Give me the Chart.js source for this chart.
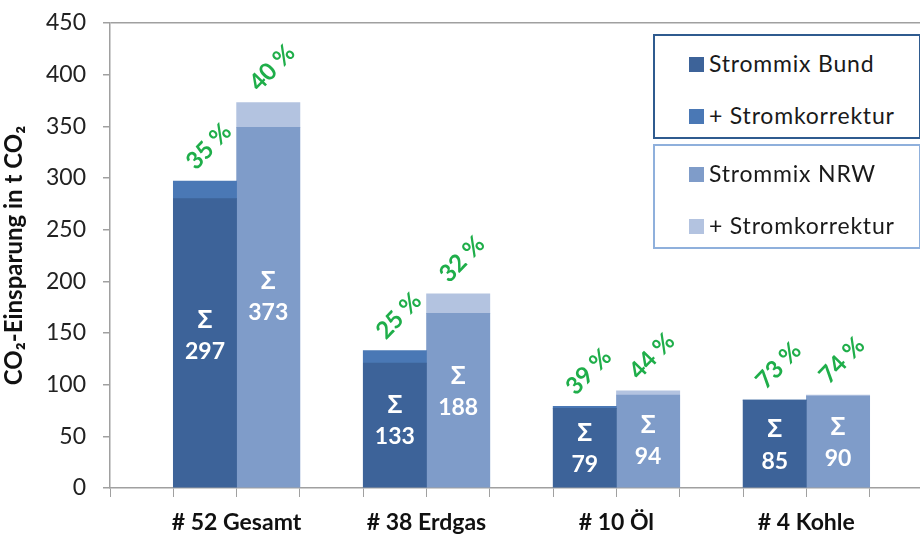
<!DOCTYPE html>
<html>
<head>
<meta charset="utf-8">
<script src="https://cdn.jsdelivr.net/npm/chart.js@4"></script>
<style>
  html, body { margin: 0; padding: 0; background: #fff; overflow: hidden; }
  #wrap { position: relative; width: 940px; height: 536px; }
  .lgbox { position: absolute; left: 653px; width: 264px; height: 101px; border: 2px solid #2f5b8f; box-sizing: content-box; background: #fff; }
  .lgbox.nrw { border-color: #8fb0dc; }
  .lgitem { position: absolute; left: 34px; font: 23px Lato, sans-serif; letter-spacing: 0.8px; color: #1a1a1a; line-height: 26px; white-space: nowrap; }
  .lgitem span { display: inline-block; width: 15px; height: 15px; margin-right: 5px; vertical-align: 0px; }
</style>
</head>
<body>
<div id="wrap">
  <canvas id="co2Chart"></canvas>
  <div id="legend"></div>
</div>
<script>
// CO2-Einsparung nach Heizungsart, Strommix Bund vs. NRW

const groups = ['# 52 Gesamt', '# 38 Erdgas', '# 10 Öl', '# 4 Kohle'];
const bundBase = [280, 121, 77, 85];
const bundCorr = [17, 12, 2, 0];
const nrwBase = [349, 169, 90, 89];
const nrwCorr = [24, 19, 4, 1];
const bundSum = [297, 133, 79, 85];
const nrwSum = [373, 188, 94, 90];
const bundPct = [35, 25, 39, 73];
const nrwPct = [40, 32, 44, 74];
const yTicks = [0, 50, 100, 150, 200, 250, 300, 350, 400, 450];

const seriesNames = ['Strommix Bund', '+ Stromkorrektur', 'Strommix NRW', '+ Stromkorrektur'];
const seriesColors = ['#3d6399', '#4a78b5', '#7f9cc9', '#b3c3e0'];

// every group takes three slots on the axis: gap, Bund, NRW (plus one trailing gap)
const slotCount = groups.length * 3 + 1;
const slotLabels = [];
for (let i = 0; i < slotCount; i++) {
    slotLabels.push(i % 3 === 1 && i < groups.length * 3 ? groups[(i - 1) / 3] : '');
}

function toSlots(values, side) {
    const out = new Array(slotCount).fill(null);
    values.forEach((v, g) => { out[g * 3 + 1 + side] = v; });
    return out;
}

const seriesData = [toSlots(bundBase, 0), toSlots(bundCorr, 0), toSlots(nrwBase, 1), toSlots(nrwCorr, 1)];

const valueLabels = {
    id: 'valueLabels',
    afterDatasetsDraw(chart) {
        const c = chart.ctx;
        const xs = chart.scales.x;
        const ys = chart.scales.y;
        const zero = ys.getPixelForValue(0);
        c.save();
        groups.forEach((g, i) => {
            [[bundSum[i], bundPct[i], 0], [nrwSum[i], nrwPct[i], 1]].forEach(([sum, pct, side]) => {
                const x = xs.getPixelForValue(i * 3 + 1 + side);
                const top = ys.getPixelForValue(sum);
                const mid = (top + zero) / 2;
                c.fillStyle = '#ffffff';
                c.textAlign = 'center';
                c.textBaseline = 'middle';
                c.font = '600 26px "Noto Sans", sans-serif';
                c.fillText('Σ', x, mid - 14);
                c.font = 'bold 23px Lato, sans-serif';
                c.fillText(String(sum), x, mid + 17);
                c.save();
                c.translate(x - 9, top - 10);
                c.rotate(-46 * Math.PI / 180);
                c.fillStyle = '#1fae4a';
                c.textAlign = 'left';
                c.textBaseline = 'alphabetic';
                c.font = 'bold 24px Lato, sans-serif';
                c.fillText(pct + ' %', 0, 0);
                c.restore();
            });
        });
        c.restore();
    }
};

const ctx = document.getElementById('co2Chart').getContext('2d');
const co2Chart = new Chart(ctx, {
    type: 'bar',
    data: {
        labels: slotLabels,
        datasets: seriesData.map((d, i) => ({
            label: seriesNames[i],
            data: d,
            backgroundColor: seriesColors[i],
            borderWidth: 0,
            barPercentage: 1,
            categoryPercentage: 1
        }))
    },
    options: {
        responsive: true,
        maintainAspectRatio: false,
        animation: false,
        layout: { padding: { top: 23, left: 0, right: 7, bottom: 0 } },
        plugins: {
            legend: { display: false },
            tooltip: { enabled: false }
        },
        scales: {
            x: {
                stacked: true,
                offset: true,
                border: { color: '#a0a0a0', width: 1.5 },
                grid: { drawOnChartArea: false, drawTicks: true, tickLength: 9, tickColor: '#a0a0a0', offset: true },
                ticks: {
                    autoSkip: false,
                    maxRotation: 0,
                    minRotation: 0,
                    labelOffset: 31.6,
                    padding: 12,
                    color: '#111',
                    font: { family: 'Lato, sans-serif', size: 23, weight: 'bold' }
                },
                afterFit: s => { s.height = 48; }
            },
            y: {
                stacked: true,
                min: 0,
                max: 450,
                afterBuildTicks: s => { s.ticks = yTicks.map(v => ({ value: v })); },
                border: { color: '#a0a0a0', width: 1.5 },
                grid: {
                    drawTicks: true,
                    tickLength: 7,
                    tickColor: '#a0a0a0',
                    color: c => (c.tick && c.tick.value === 450 ? '#a0a0a0' : 'rgba(0,0,0,0)'),
                    lineWidth: 1.5
                },
                ticks: {
                    padding: 17,
                    color: '#222',
                    font: { family: 'Lato, sans-serif', size: 23 }
                },
                title: {
                    display: true,
                    text: 'CO₂-Einsparung in t CO₂',
                    color: '#111',
                    padding: { top: 0, bottom: 0 },
                    font: { family: 'Lato, sans-serif', size: 24, weight: 'bold' }
                },
                afterFit: s => {
                    s.width = 110;
                    s.paddingTop = 0;
                    s.paddingBottom = 0;
                }
            }
        }
    },
    plugins: [valueLabels]
});

// legend in two framed boxes, Bund on top and NRW below
const legendEl = document.getElementById('legend');
[[0, 34, ''], [2, 144, ' nrw']].forEach(([first, top, cls]) => {
    const box = document.createElement('div');
    box.className = 'lgbox' + cls;
    box.style.top = top + 'px';
    [0, 1].forEach(k => {
        const item = document.createElement('div');
        item.className = 'lgitem';
        item.style.top = (k === 0 ? 14 : 66) + 'px';
        item.innerHTML = '<span style="background:' + seriesColors[first + k] + '"></span>';
        item.appendChild(document.createTextNode(seriesNames[first + k]));
        box.appendChild(item);
    });
    legendEl.appendChild(box);
});
</script>
</body>
</html>
